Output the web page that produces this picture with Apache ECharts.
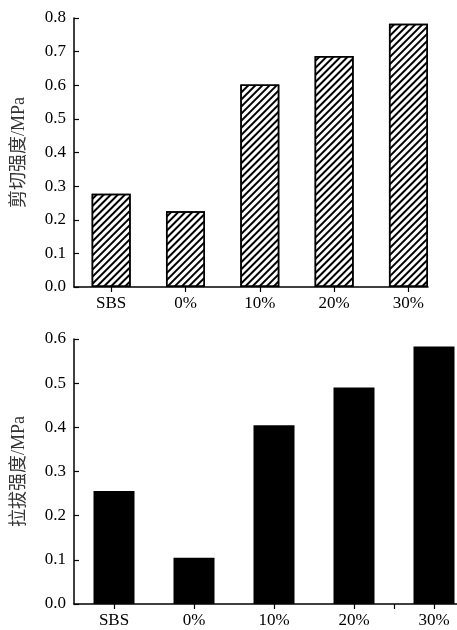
<!DOCTYPE html>
<html>
<head>
<meta charset="utf-8">
<script src="https://cdn.jsdelivr.net/npm/echarts@6/dist/echarts.min.js"></script>
<style>
  html, body { margin: 0; padding: 0; background: #fff; }
  #chart { width: 457px; height: 630px; }
</style>
</head>
<body>
<div id="chart"></div>
<script>
// 数据
const categories = ['SBS', '0%', '10%', '20%', '30%']
const shearStrength = [0.277, 0.225, 0.602, 0.687, 0.783]
const pullStrength = [0.256, 0.105, 0.405, 0.490, 0.583]
const shearTicks = [0, 0.1, 0.2, 0.3, 0.4, 0.5, 0.6, 0.7, 0.8]
const pullTicks = [0, 0.1, 0.2, 0.3, 0.4, 0.5, 0.6]

const serif = 'Liberation Serif, "Noto Sans CJK SC"'
const catIdx = categories.map((c, i) => i)

/**
 * x轴用数值轴，方便把轴线截在最后一根柱子右边
 */
function xAxisOf(gridIndex, max, tickVals) {
  return {
    type: 'value',
    gridIndex,
    min: -0.5,
    max,
    splitLine: { show: false },
    axisLine: { show: true, onZero: false, lineStyle: { color: '#000', width: 1.5 } },
    axisTick: { show: true, inside: false, length: 5, lineStyle: { color: '#000', width: 1.2 }, customValues: tickVals },
    axisLabel: {
      customValues: catIdx,
      formatter: v => categories[Math.round(v)],
      color: '#000',
      fontFamily: serif,
      fontSize: 17,
      margin: 8
    }
  }
}

function yAxisOf(gridIndex, ticks, name) {
  return {
    type: 'value',
    gridIndex,
    min: ticks[0],
    max: ticks[ticks.length - 1],
    interval: 0.1,
    name,
    nameLocation: 'middle',
    nameGap: 46,
    nameTextStyle: { fontFamily: serif, fontSize: 18, color: '#333' },
    splitLine: { show: false },
    axisLine: { show: true, onZero: false, lineStyle: { color: '#000', width: 1.5 } },
    axisTick: { show: true, inside: true, length: 5, lineStyle: { color: '#000', width: 1.2 } },
    axisLabel: {
      formatter: v => v.toFixed(1),
      color: '#000',
      fontFamily: serif,
      fontSize: 17,
      margin: 8
    }
  }
}

const chart = echarts.init(document.getElementById('chart'), null, { renderer: 'canvas' })

chart.setOption({
  animation: false,
  backgroundColor: '#fff',
  grid: [
    { left: 74, top: 18, width: 354, height: 269, outerBoundsMode: 'none' },
    { left: 74, top: 339, width: 400, height: 265, outerBoundsMode: 'none' }
  ],
  xAxis: [
    xAxisOf(0, 4.263, catIdx),
    xAxisOf(1, 4.5, catIdx.concat([3.5]))
  ],
  yAxis: [
    yAxisOf(0, shearTicks, '剪切强度/MPa'),
    yAxisOf(1, pullTicks, '拉拔强度/MPa')
  ],
  series: [
    {
      type: 'bar',
      xAxisIndex: 0,
      yAxisIndex: 0,
      barWidth: 39,
      data: shearStrength.map((v, i) => [i, v]),
      itemStyle: {
        color: '#fff',
        borderColor: '#000',
        borderWidth: 1.5,
        decal: {
          color: '#000',
          dashArrayX: [1, 0],
          dashArrayY: [2, 2.5],
          rotation: -Math.PI / 4
        }
      }
    },
    {
      type: 'bar',
      xAxisIndex: 1,
      yAxisIndex: 1,
      barWidth: 41,
      data: pullStrength.map((v, i) => [i, v]),
      itemStyle: { color: '#000' }
    }
  ]
})
</script>
</body>
</html>
